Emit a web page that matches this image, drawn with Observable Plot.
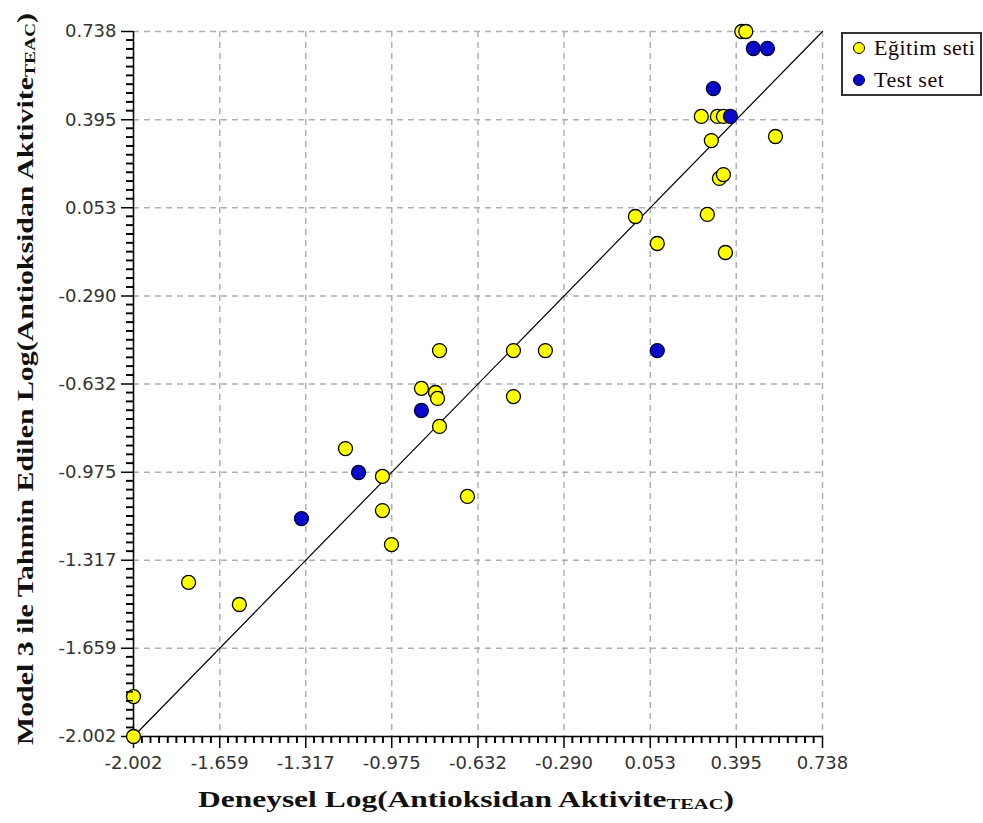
<!DOCTYPE html>
<html><head><meta charset="utf-8">
<script src="https://cdn.jsdelivr.net/npm/d3@7"></script>
<script src="https://cdn.jsdelivr.net/npm/@observablehq/plot@0.6"></script>
<style>
body{margin:0;background:#fff;}
#wrap{position:relative;width:983px;height:823px;}
.atitle{position:absolute;left:0;top:0;white-space:nowrap;font-family:"Liberation Serif",serif;font-weight:bold;font-size:23px;line-height:26px;color:#111;transform-origin:0 0;}
.atitle sub{font-size:15px;vertical-align:baseline;position:relative;top:2px;}
#legend{position:absolute;left:841px;top:32px;width:137px;height:60px;border:2px solid #333;background:#fff;font-family:"Liberation Serif",serif;font-size:22px;color:#1a0505;letter-spacing:0.5px;}
.lrow{position:absolute;left:0;height:24px;display:flex;align-items:center;white-space:nowrap;}
.lsw{display:inline-block;width:10px;height:10px;border-radius:50%;margin-left:10px;margin-right:9px;border:1.2px solid #000;}
</style></head><body><div id="wrap"><div id="xt" class="atitle"></div><div id="yt" class="atitle"></div><div id="legend"></div></div>
<script>
// Axis ticks (both axes use the same values)
const tickValues = [-2.002, -1.659, -1.317, -0.975, -0.632, -0.290, 0.053, 0.395, 0.738];
const tickLabels = ["-2.002", "-1.659", "-1.317", "-0.975", "-0.632", "-0.290", "0.053", "0.395", "0.738"];

// Eğitim seti (training set)
const trainX = [-2.002, -2.002, -1.783, -1.581, -1.159, -1.012, -1.012, -0.976, -0.857, -0.801, -0.793, -0.785, -0.785, -0.674, -0.491, -0.491, -0.364, -0.006, 0.081, 0.256, 0.280, 0.296, 0.320, 0.328, 0.344, 0.352, 0.344, 0.417, 0.433, 0.551];
const trainY = [-2.002, -1.847, -1.403, -1.489, -0.883, -0.991, -1.124, -1.256, -0.649, -0.665, -0.688, -0.502, -0.797, -1.069, -0.502, -0.681, -0.502, 0.019, -0.086, 0.408, 0.027, 0.314, 0.408, 0.167, 0.182, -0.121, 0.408, 0.738, 0.738, 0.330];

// Test set
const testX = [-1.334, -1.107, -0.857, 0.081, 0.304, 0.372, 0.463, 0.519];
const testY = [-1.155, -0.976, -0.735, -0.502, 0.516, 0.408, 0.672, 0.672];

// y = x reference line endpoints
const diagX = [-2.002, 0.738];
const diagY = [-2.002, 0.738];

const seriesNames = ["Eğitim seti", "Test set"];
const seriesColors = ["#ffff00", "#0a0acd"];
const seriesStrokes = ["#000000", "#00003a"];

const train = trainX.map((x, i) => ({x, y: trainY[i]}));
const test = testX.map((x, i) => ({x, y: testY[i]}));
const diag = diagX.map((x, i) => ({x, y: diagY[i]}));

const minor = [];
for (let i = 0; i < tickValues.length - 1; i++) {
  const a = tickValues[i], b = tickValues[i + 1];
  for (let j = 1; j < 10; j++) minor.push(a + (b - a) * j / 10);
}
const fmt = d => { const k = tickValues.indexOf(d); return k >= 0 ? tickLabels[k] : ""; };
const dom = [tickValues[0], tickValues[tickValues.length - 1]];

const W = 983, H = 823, ML = 133, MR = 161, MT = 31, MB = 87;
const plotW = W - ML - MR, plotH = H - MT - MB;
const minorLen = 7;

const chart = Plot.plot({
  width: W, height: H, marginLeft: ML, marginRight: MR, marginTop: MT, marginBottom: MB,
  style: {fontFamily: "DejaVu Sans, sans-serif", fontSize: "18px", background: "#fff", overflow: "visible"},
  x: {domain: dom, label: null},
  y: {domain: dom, label: null},
  marks: [
    Plot.gridX(tickValues, {stroke: "#b0b0b0", strokeOpacity: 1, strokeWidth: 1.5, strokeDasharray: "6,5"}),
    Plot.gridY(tickValues, {stroke: "#b0b0b0", strokeOpacity: 1, strokeWidth: 1.5, strokeDasharray: "6,5"}),
    Plot.tickX(minor, {x: d => d, insetTop: plotH, insetBottom: -minorLen, stroke: "#000", strokeWidth: 1.4}),
    Plot.tickY(minor, {y: d => d, insetLeft: -minorLen, insetRight: plotW, stroke: "#000", strokeWidth: 1.4}),
    Plot.axisX(tickValues, {tickSize: 12, tickPadding: 8, tickFormat: fmt, stroke: "#000", strokeWidth: 1.5, fill: "#333", label: null}),
    Plot.axisY(tickValues, {anchor: "left", tickSize: 12, tickPadding: 5, tickFormat: fmt, stroke: "#000", strokeWidth: 1.5, fill: "#333", label: null}),
    Plot.ruleX([dom[0]], {stroke: "#000", strokeWidth: 1.5}),
    Plot.ruleY([dom[0]], {stroke: "#000", strokeWidth: 1.5}),
    Plot.line(diag, {x: "x", y: "y", stroke: "#000", strokeWidth: 1.2}),
    Plot.dot(train, {x: "x", y: "y", r: 7, fill: seriesColors[0], stroke: seriesStrokes[0], strokeWidth: 1.3}),
    Plot.dot(test, {x: "x", y: "y", r: 7, fill: seriesColors[1], stroke: seriesStrokes[1], strokeWidth: 1.3})
  ]
});

const wrap = document.getElementById("wrap");
wrap.insertBefore(chart, wrap.firstChild);

// Extra minor ticks placed through Plot's own scales
const sx = chart.scale("x"), sy = chart.scale("y");
const g = d3.select(chart).append("g").attr("stroke", "#000").attr("stroke-width", 1.4);
const x0 = sx.apply(dom[0]), y0 = sy.apply(dom[0]);
minor.forEach(v => {
  const px = sx.apply(v), py = sy.apply(v);
  g.append("line").attr("x1", px).attr("x2", px).attr("y1", y0).attr("y2", y0 + minorLen);
  g.append("line").attr("x1", x0 - minorLen).attr("x2", x0).attr("y1", py).attr("y2", py);
});

// Axis titles (HTML, stretched to the reference's widths)
function setTitle(el, main, sub, len, cx, baseline, rotate) {
  el.innerHTML = "";
  el.appendChild(document.createTextNode(main));
  const s = document.createElement("sub"); s.textContent = sub; el.appendChild(s);
  el.appendChild(document.createTextNode(")"));
  const w = el.getBoundingClientRect().width;
  const k = len / w;
  const asc = 19;
  if (!rotate) {
    el.style.transform = `translate(${cx - len / 2}px, ${baseline - asc}px) scaleX(${k})`;
  } else {
    el.style.transform = `translate(${baseline - asc}px, ${cx + len / 2}px) rotate(-90deg) scaleX(${k})`;
  }
}
setTitle(document.getElementById("xt"), "Deneysel Log(Antioksidan Aktivite", "TEAC", 536, 466, 806, false);
setTitle(document.getElementById("yt"), "Model 3 ile Tahmin Edilen Log(Antioksidan Aktivite", "TEAC", 732, 379, 32, true);

// Legend
const legend = document.getElementById("legend");
seriesNames.forEach((name, i) => {
  const row = document.createElement("div");
  row.className = "lrow";
  row.style.top = (2 + i * 32) + "px";
  const sw = document.createElement("span");
  sw.className = "lsw";
  sw.style.background = seriesColors[i];
  sw.style.borderColor = seriesStrokes[i];
  const tx = document.createElement("span");
  tx.textContent = name;
  row.appendChild(sw);
  row.appendChild(tx);
  legend.appendChild(row);
});
</script>
</body></html>
